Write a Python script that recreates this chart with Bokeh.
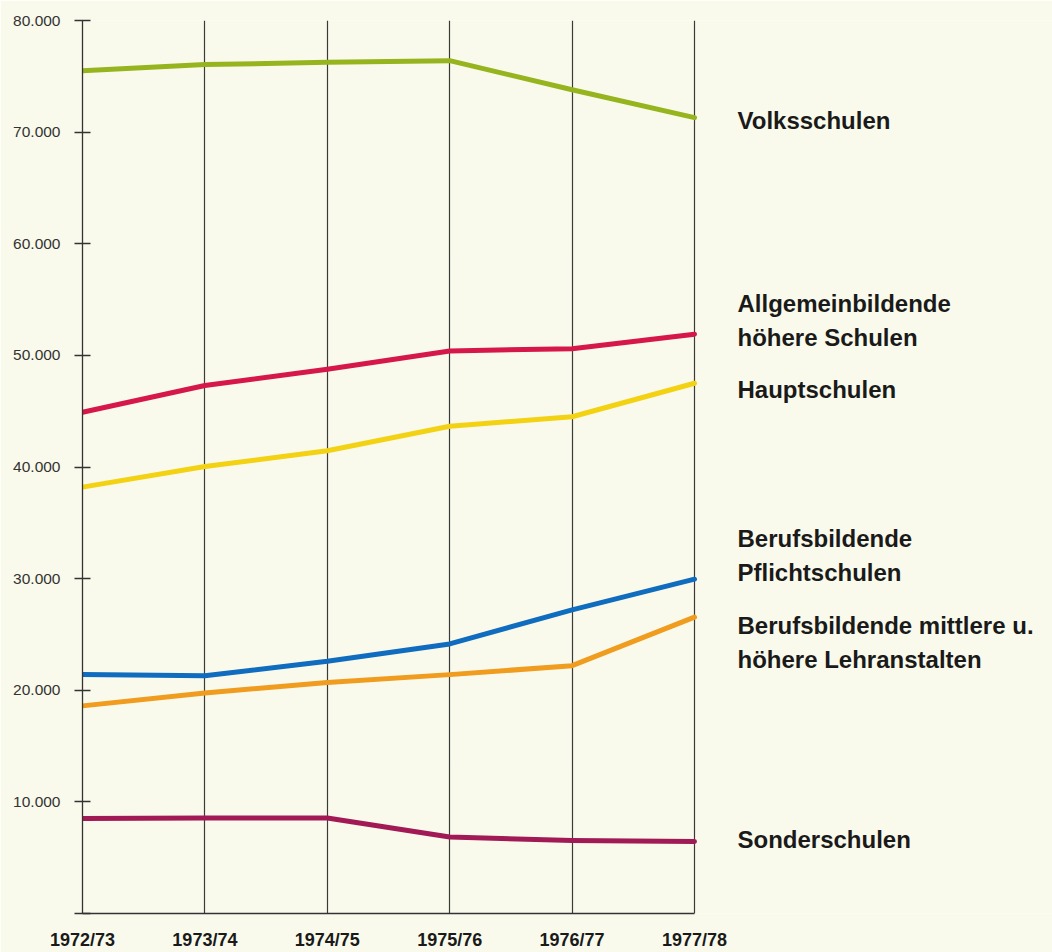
from bokeh.plotting import figure
from bokeh.models import Range1d, FixedTicker, ColumnDataSource
from bokeh.core.properties import value
from bokeh.embed import file_html
from bokeh.resources import INLINE

# ---- data ----
years = ["1972/73", "1973/74", "1974/75", "1975/76", "1976/77", "1977/78"]
volksschulen = [75500, 76050, 76250, 76400, 73800, 71300]
allgemein_hoehere = [44900, 47300, 48750, 50400, 50600, 51900]
hauptschulen = [38200, 40050, 41450, 43650, 44500, 47500]
berufs_pflicht = [21400, 21300, 22600, 24150, 27200, 29950]
berufs_mittlere = [18600, 19750, 20700, 21400, 22200, 26550]
sonderschulen = [8500, 8550, 8550, 6850, 6550, 6450]

series_names = [
    "Volksschulen",
    "Allgemeinbildende\nhöhere Schulen",
    "Hauptschulen",
    "Berufsbildende\nPflichtschulen",
    "Berufsbildende mittlere u.\nhöhere Lehranstalten",
    "Sonderschulen",
]
series_values = [volksschulen, allgemein_hoehere, hauptschulen,
                 berufs_pflicht, berufs_mittlere, sonderschulen]
series_colors = ["#96b41e", "#d6174a", "#f3d213", "#0f6cbf", "#ef9c1f", "#a11a56"]
# vertical anchor of each right-hand label (value units)
label_pos = [71000, 53100, 46900, 32050, 24250, 6620]

y_ticks = [0, 10000, 20000, 30000, 40000, 50000, 60000, 70000, 80000]

BG = "#fafaec"
INK = "#333333"

x_idx = list(range(len(years)))

p = figure(width=1052, height=952, output_backend="svg", toolbar_location=None,
           x_range=Range1d(0, 970 / 122.4), y_range=Range1d(0, 80000),
           min_border_left=82, min_border_top=20, min_border_right=0,
           min_border_bottom=38)
p.background_fill_color = BG
p.border_fill_color = BG
p.outline_line_color = None

# y axis
p.yaxis.ticker = FixedTicker(ticks=y_ticks)
p.yaxis.major_label_overrides = {t: ("" if t == 0 else f"{t:,}".replace(",", ".")) for t in y_ticks}
p.yaxis.major_tick_in = 8
p.yaxis.major_tick_out = 8
p.yaxis.minor_tick_line_color = None
p.yaxis.axis_line_color = INK
p.yaxis.major_tick_line_color = INK
p.yaxis.axis_line_width = 1.3
p.yaxis.major_tick_line_width = 1.3
p.yaxis.major_label_text_font = "Liberation Sans"
p.yaxis.major_label_text_font_size = "15.5px"
p.yaxis.major_label_text_color = INK
p.yaxis.major_label_standoff = 14

# x axis
p.xaxis.ticker = FixedTicker(ticks=x_idx)
p.xaxis.major_label_overrides = {i: y for i, y in zip(x_idx, years)}
p.xaxis.bounds = (x_idx[0], x_idx[-1])
p.xaxis.major_tick_in = 0
p.xaxis.major_tick_out = 0
p.xaxis.minor_tick_line_color = None
p.xaxis.axis_line_color = INK
p.xaxis.axis_line_width = 1.5
p.xaxis.major_label_text_font = "Liberation Sans"
p.xaxis.major_label_text_font_style = "bold"
p.xaxis.major_label_text_font_size = "18px"
p.xaxis.major_label_text_color = "#1a1a1a"
p.xaxis.major_label_standoff = 16

# grid: vertical lines at every school year
p.xgrid.ticker = FixedTicker(ticks=x_idx)
p.xgrid.grid_line_color = "#3a3a3a"
p.xgrid.grid_line_width = 1.2
p.ygrid.grid_line_color = None

for vals, col in zip(series_values, series_colors):
    p.line(x=x_idx, y=vals, line_color=col, line_width=5, line_join="round", line_cap="round")

src = ColumnDataSource(dict(x=[x_idx[-1]] * len(series_names), y=label_pos, t=series_names))
p.text(x="x", y="y", text="t", source=src, x_offset=43,
       text_font=value("Liberation Sans"), text_font_style="bold",
       text_font_size="24px", text_color="#1a1a1a", text_baseline="middle",
       text_align="left", text_line_height=1.25)

html = file_html(p, INLINE)
html = html.replace("<body>", f'<body style="background:{BG};margin:0;overflow:hidden;">', 1)
open("out.html", "w").write(html)
